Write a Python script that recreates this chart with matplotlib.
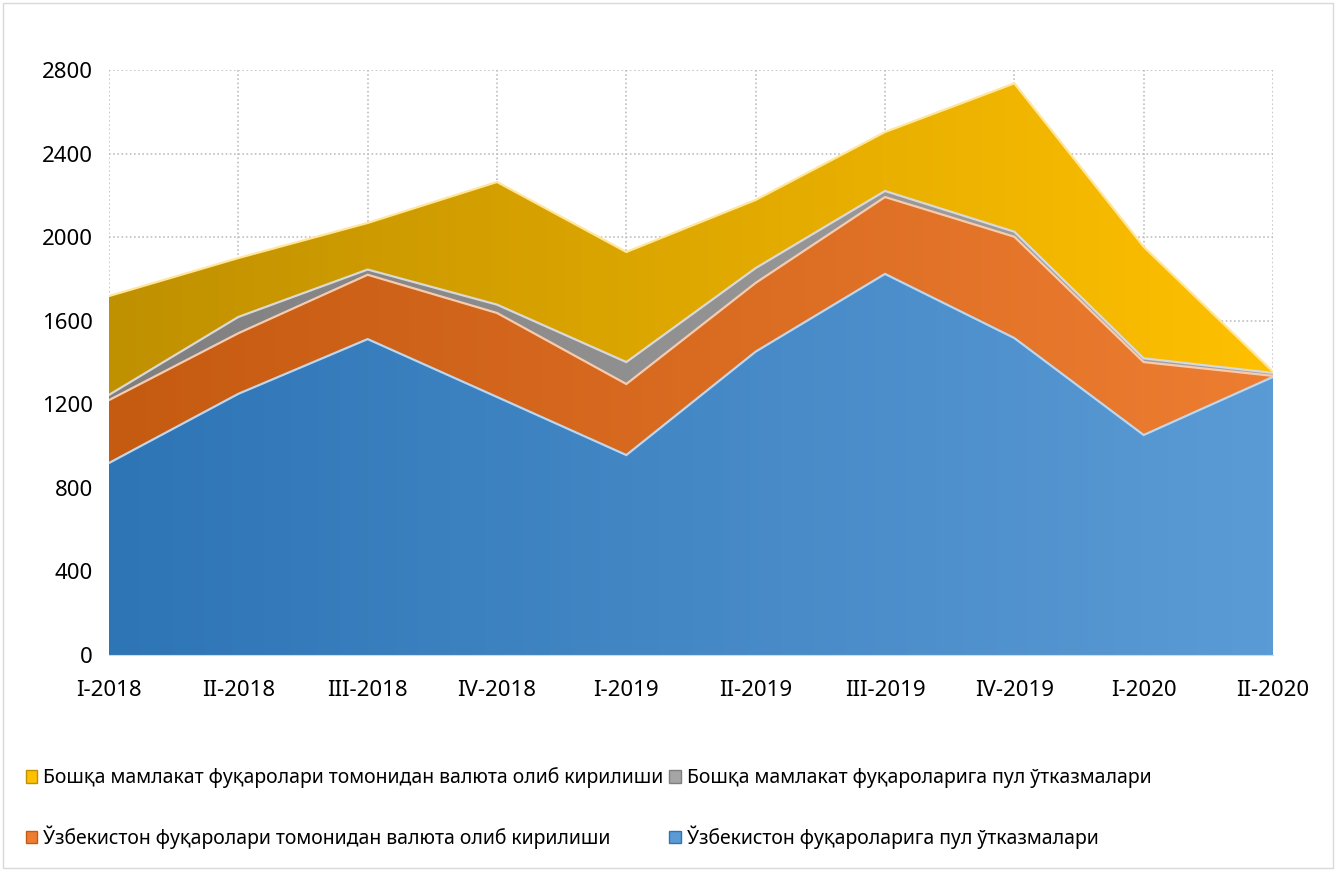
import matplotlib
matplotlib.use('Agg')
import matplotlib.pyplot as plt
import numpy as np
from matplotlib.colors import LinearSegmentedColormap
from matplotlib.patches import Patch, Rectangle

plt.rcParams['font.family'] = ['Noto Sans', 'DejaVu Sans']

quarters = ['I-2018', 'II-2018', 'III-2018', 'IV-2018', 'I-2019',
            'II-2019', 'III-2019', 'IV-2019', 'I-2020', 'II-2020']

# values (stacked from bottom to top)
uz_transfers = [919, 1250, 1512, 1235, 957, 1452, 1824, 1517, 1053, 1331]
uz_cash_in = [301, 290, 308, 402, 340, 329, 368, 485, 349, 5]
foreign_transfers = [25, 78, 25, 40, 105, 71, 29, 24, 18, 14]
foreign_cash_in = [473, 282, 223, 587, 527, 326, 282, 710, 534, 6]

labels = ['Ўзбекистон фуқароларига пул ўтказмалари',
          'Ўзбекистон фуқаролари томонидан валюта олиб кирилиши',
          'Бошқа мамлакат фуқароларига пул ўтказмалари',
          'Бошқа мамлакат фуқаролари томонидан валюта олиб кирилиши']

# left -> right gradient colours for each layer
grads = [('#2E75B6', '#5B9BD5'),
         ('#C55A11', '#ED7D31'),
         ('#7F7F7F', '#A5A5A5'),
         ('#BF9000', '#FFC000')]
edge_cols = ['#BDD7EE', '#F8CBAD', '#D9D9D9', '#FFE699']

fig = plt.figure(figsize=(13.36, 8.71), dpi=100)
ax = fig.add_axes([109 / 1336, 1 - 655 / 871, (1273 - 109) / 1336, (655 - 70) / 871])

x = np.arange(len(quarters))
series = [uz_transfers, uz_cash_in, foreign_transfers, foreign_cash_in]
base = np.zeros(len(x))
for i, s in enumerate(series):
    top = base + np.array(s)
    poly = ax.fill_between(x, base, top, facecolor='none', edgecolor='none')
    cmap = LinearSegmentedColormap.from_list('g%d' % i, grads[i])
    grad = np.linspace(0, 1, 256).reshape(1, -1)
    im = ax.imshow(grad, extent=[0, len(x) - 1, 0, 2800], aspect='auto',
                   cmap=cmap, zorder=2 + i * 0.1)
    im.set_clip_path(poly.get_paths()[0], transform=ax.transData)
    ax.plot(x, top, color=edge_cols[i], lw=1.6, zorder=3, solid_joinstyle='miter')
    base = top

ax.set_xlim(0, len(x) - 1)
ax.set_ylim(0, 2800)
ax.set_yticks(np.arange(0, 2801, 400))
ax.set_xticks(x)
ax.set_xticklabels(quarters, fontsize=16)
ax.tick_params(axis='y', labelsize=16, length=0, pad=11.5)
ax.tick_params(axis='x', length=0, pad=18)
ax.grid(True, color='#BFBFBF', linestyle=(0, (1, 1.5)), linewidth=1.2, zorder=0)
ax.set_axisbelow(True)
for sp in ['top', 'left', 'right']:
    ax.spines[sp].set_visible(False)
ax.spines['bottom'].set_color('#D9D9D9')

handles = [Patch(facecolor=grads[i][1], edgecolor=grads[i][0]) for i in range(4)]
order = [3, 1, 2, 0]
leg = fig.legend([handles[i] for i in order], [labels[i] for i in order],
                 loc='upper left', bbox_to_anchor=(8 / 1336, 1 - 750 / 871),
                 ncol=2, frameon=False, fontsize=14, handlelength=0.6,
                 handleheight=0.6, handletextpad=0.3, columnspacing=0.3,
                 labelspacing=1.9)

fig.patches.append(Rectangle((3 / 1336, 3 / 871), 1 - 6 / 1336, 1 - 6 / 871,
                             transform=fig.transFigure, fill=False,
                             edgecolor='#D9D9D9', lw=1))

fig.savefig('out.png', dpi=100)
